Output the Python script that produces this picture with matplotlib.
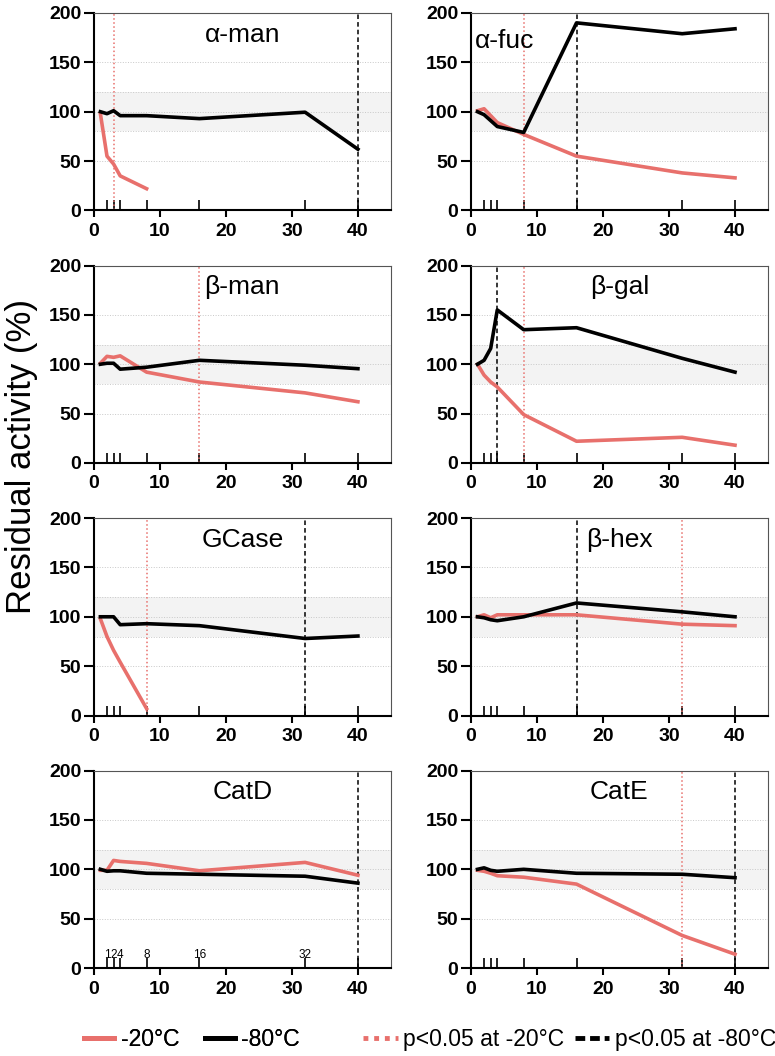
import matplotlib
matplotlib.use('Agg')
import matplotlib.pyplot as plt
from matplotlib.lines import Line2D

plt.rcParams['font.family'] = ['Liberation Sans', 'DejaVu Sans']

# time points (x) and sampled points
weeks = [1, 2, 3, 4, 8, 16, 32, 40]
xticks = [0, 10, 20, 30, 40]
yticks = [0, 50, 100, 150, 200]
inner_ticks = [2, 3, 4, 8, 16, 32, 40]
inner_labels = ['1', '2', '4', '8', '16', '32', '']

names = ['α-man', 'α-fuc', 'β-man', 'β-gal', 'GCase', 'β-hex', 'CatD', 'CatE']

# residual activity (%) at -20 C
m20 = [
    [98, 55, 47, 35, 22],
    [101, 103, 96, 89, 77, 55, 38, 33],
    [101, 108, 107, 108.5, 92, 82, 71, 62],
    [100, 89, 82, 77, 49, 22, 26, 18],
    [98, 80, 66, 54, 7],
    [100, 102, 99, 102, 102, 102, 92.5, 91],
    [99, 99, 109, 108, 106, 98.5, 107, 94],
    [99, 98, 96, 93.5, 92, 85, 33, 14],
]
# residual activity (%) at -80 C
m80 = [
    [100, 98, 101, 96, 96, 93, 99.5, 62],
    [100, 97, 91, 85, 79, 190, 179, 184],
    [100, 101, 101, 95, 97, 104, 99, 95.5],
    [100, 104, 116, 155, 135, 137, 106, 92],
    [100, 100, 100, 92, 93, 91, 78, 80.5],
    [100, 99, 97, 96, 100, 114, 105, 100],
    [100, 98, 98.5, 98.5, 96, 95, 93, 86],
    [100, 101.5, 99, 98, 100, 96, 95, 91.5],
]
# first time point with p<0.05
sig20 = [3, 8, 16, 8, 8, 32, None, 32]
sig80 = [40, 16, None, 4, 32, 16, 40, 40]

red = '#e8706c'

fig, axes = plt.subplots(4, 2, figsize=(7.75, 10.56), dpi=100)
plt.subplots_adjust(left=0.121, right=0.991, top=0.9877, bottom=0.0833,
                    wspace=0.269, hspace=0.279)

for i, ax in enumerate(axes.flat):
    ax.axhspan(80, 120, color='#f3f3f3', lw=0, zorder=0)
    for g in [50, 80, 100, 120, 150]:
        ax.axhline(g, color='#c8c8c8', lw=0.7, ls=':', zorder=1)
    if sig20[i] is not None:
        ax.axvline(sig20[i], color=red, lw=1.1, ls=':', zorder=2)
    if sig80[i] is not None:
        ax.axvline(sig80[i], color='black', lw=1.1, ls=(0, (3, 2)), zorder=2)
    ax.plot(weeks[:len(m20[i])], m20[i], color=red, lw=2.6, zorder=3,
            solid_joinstyle='round')
    ax.plot(weeks, m80[i], color='black', lw=2.6, zorder=4,
            solid_joinstyle='round')

    ax.set_xlim(0, 45)
    ax.set_ylim(0, 200)
    ax.set_xticks(xticks, labels=[str(v) for v in xticks],
                  fontweight='bold', fontsize=14)
    ax.set_yticks(yticks, labels=[str(v) for v in yticks],
                  fontweight='bold', fontsize=14)
    ax.xaxis.remove_overlapping_locs = False
    labs = inner_labels if names[i] == 'CatD' else [''] * len(inner_ticks)
    ax.set_xticks(inner_ticks, labels=labs, minor=True, fontsize=8.5)
    ax.tick_params(axis='x', which='minor', direction='in', length=7,
                   width=1.2, pad=-14)
    ax.tick_params(which='major', direction='out', length=5, width=1.5)
    ax.tick_params(axis='x', which='major', pad=4)
    ax.tick_params(axis='y', which='major', length=7, pad=2)

    for s in ['left', 'bottom']:
        ax.spines[s].set_linewidth(1.5)
    for s in ['top', 'right']:
        ax.spines[s].set_linewidth(0.8)
        ax.spines[s].set_color('#555555')

    if names[i] == 'α-fuc':
        ax.text(0.015, 0.86, names[i], transform=ax.transAxes, ha='left',
                va='center', fontsize=19, zorder=5)
    else:
        ax.text(0.5, 0.89, names[i], transform=ax.transAxes, ha='center',
                va='center', fontsize=19, zorder=5)

fig.text(0.006, 0.568, 'Residual activity (%)', rotation=90, ha='left',
         va='center', fontsize=25)

h1 = [Line2D([], [], color=red, lw=3.5), Line2D([], [], color='black', lw=3.5)]
h2 = [Line2D([], [], color=red, lw=3.5, ls=(0, (1, 1.2))),
      Line2D([], [], color='black', lw=3.5, ls=(0, (2, 1)))]
leg1 = fig.legend(h1, ['-20°C', '-80°C'], loc='center', ncol=2,
                  bbox_to_anchor=(0.248, 0.016), frameon=False, fontsize=16.5,
                  handlelength=1.3, handletextpad=0.3, columnspacing=1.1)
fig.add_artist(leg1)
fig.legend(h2, ['p<0.05 at -20°C', 'p<0.05 at -80°C'], loc='center', ncol=2,
           bbox_to_anchor=(0.735, 0.016), frameon=False, fontsize=16.5,
           handlelength=1.5, handletextpad=0.25, columnspacing=0.45)

fig.savefig('out.png', dpi=100)
